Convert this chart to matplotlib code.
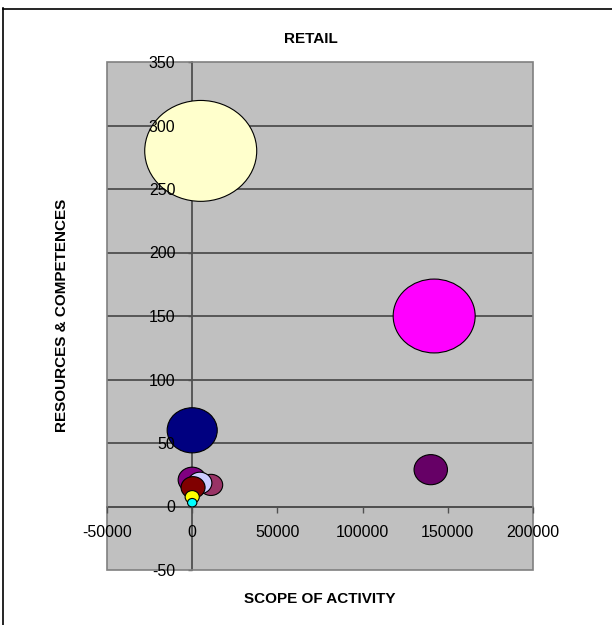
import matplotlib
matplotlib.use('Agg')
import matplotlib.pyplot as plt
import numpy as np
from matplotlib.collections import EllipseCollection
from matplotlib.lines import Line2D

plt.rcParams['font.family'] = ['Liberation Sans', 'DejaVu Sans']

# retail firms: scope of activity vs. resources & competences, bubble = size
scope = [5000, 142000, 140000, 0, 0, 11000, 4500, 500, 0, 0]
resources = [280, 150, 29, 60, 21, 17, 18.5, 15, 7.5, 3]
bubble_size = [100, 53.6, 8.9, 20, 6.3, 4.4, 4.6, 4.6, 1.6, 0.7]
colors = ['#FFFFCC', '#FF00FF', '#660066', '#000080', '#800080',
          '#993366', '#CCCCFF', '#800000', '#FFFF00', '#00FFFF']

x_ticks = [-50000, 0, 50000, 100000, 150000, 200000]
y_ticks = [-50, 0, 50, 100, 150, 200, 250, 300, 350]

fig = plt.figure(figsize=(6.12, 6.25), dpi=100)
ax = fig.add_axes([107 / 612, 1 - 570 / 625, 426 / 612, 508 / 625])
ax.set_facecolor('#C0C0C0')
ax.set_xlim(-50000, 200000)
ax.set_ylim(-50, 350)

# horizontal gridlines
for yv in y_ticks[1:-1]:
    ax.axhline(yv, color='#3a3a3a', lw=1.1, zorder=1)

# axes cross at the origin
for side in ['top', 'right']:
    ax.spines[side].set_visible(False)
ax.spines['left'].set_position(('data', 0))
ax.spines['bottom'].set_position(('data', 0))
for side in ['left', 'bottom']:
    ax.spines[side].set_color('#505050')
    ax.spines[side].set_linewidth(1.3)
    ax.spines[side].set_zorder(2)

ax.add_patch(plt.Rectangle((0, 0), 1, 1, transform=ax.transAxes, fill=False,
                           edgecolor='#808080', lw=1.2, zorder=3, clip_on=False))

ax.set_xticks(x_ticks)
ax.set_yticks(y_ticks)
ax.set_xticklabels([str(v) for v in x_ticks])
ax.set_yticklabels([str(v) for v in y_ticks])
ax.tick_params(axis='x', direction='out', length=4, width=1, color='#505050',
               labelsize=11.5, pad=9)
ax.tick_params(axis='y', direction='out', length=0, labelsize=11.5, pad=12)
# y tick marks stay under the bubbles, the labels go on top
ax.plot(np.zeros(len(y_ticks)), y_ticks, linestyle='none', marker=0,
        markersize=3, markeredgewidth=1, color='#505050', zorder=2, clip_on=False)
ax.yaxis.set_zorder(5)
ax.xaxis.set_zorder(5)

# bubbles: radius scales with sqrt of size, slightly wider than tall
r = 56 * np.sqrt(np.array(bubble_size) / max(bubble_size))
bubbles = EllipseCollection(widths=2 * r, heights=2 * r / 1.11, angles=0,
                            units='dots', offsets=list(zip(scope, resources)),
                            offset_transform=ax.transData,
                            facecolors=colors, edgecolors='black',
                            linewidths=0.8, zorder=4)
ax.add_collection(bubbles)

fig.text(311 / 612, 1 - 39 / 625, 'RETAIL', ha='center', va='center',
         fontsize=11, fontweight='bold')
fig.text(320 / 612, 1 - 599 / 625, 'SCOPE OF ACTIVITY', ha='center',
         va='center', fontsize=11, fontweight='bold')
fig.text(62 / 612, 1 - 315 / 625, 'RESOURCES & COMPETENCES', ha='center',
         va='center', rotation=90, fontsize=11, fontweight='bold')

# chart frame
fig.add_artist(Line2D([3.5 / 612, 3.5 / 612], [1 - 8 / 625, 0], color='black', lw=1.2))
fig.add_artist(Line2D([3 / 612, 1], [1 - 8.5 / 625, 1 - 8.5 / 625], color='black', lw=1.2))

fig.savefig('out.png', dpi=100)
